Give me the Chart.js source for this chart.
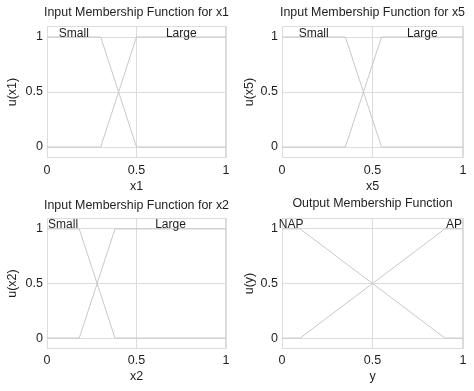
<!DOCTYPE html>
<html>
<head>
<meta charset="utf-8">
<script src="https://cdn.jsdelivr.net/npm/chart.js@4"></script>
<style>
  html, body { margin: 0; padding: 0; background: #fff; }
  #wrap { position: relative; width: 474px; height: 391px; }
  canvas { position: absolute; }
</style>
</head>
<body>
<div id="wrap">
  <canvas id="c1" width="237" height="195" style="left:0;top:0"></canvas>
  <canvas id="c2" width="237" height="195" style="left:237px;top:0"></canvas>
  <canvas id="c3" width="237" height="196" style="left:0;top:195px"></canvas>
  <canvas id="c4" width="237" height="196" style="left:237px;top:195px"></canvas>
</div>
<script>
// datos
const xTicks = [0, 0.5, 1];
const yTicks = [0, 0.5, 1];

const x1Breaks = [0, 0.3, 0.5, 1];
const x1Small = [1, 1, 0, 0];
const x1Large = [0, 0, 1, 1];

const x5Breaks = [0, 0.35, 0.55, 1];
const x5Small = [1, 1, 0, 0];
const x5Large = [0, 0, 1, 1];

const x2Breaks = [0, 0.18, 0.38, 1];
const x2Small = [1, 1, 0, 0];
const x2Large = [0, 0, 1, 1];

const yBreaks = [0, 0.1, 0.9, 1];
const yNAP = [1, 1, 0, 0];
const yAP = [0, 0, 1, 1];

const FONT = "'Liberation Sans', Arial, sans-serif";
const TXT = '#1e1e1e';
const GRID = '#dcdcdc';
const LINE = '#c8c8c8';

Chart.defaults.font.family = FONT;
Chart.defaults.font.size = 12.5;
Chart.defaults.color = TXT;

const toPoints = (xs, ys) => xs.map((x, i) => ({ x: x, y: ys[i] }));

// marco gris alrededor del área
const framePlugin = {
    id: 'frame',
    beforeDatasetsDraw: (chart) => {
        const a = chart.chartArea;
        const ctx = chart.ctx;
        ctx.save();
        ctx.strokeStyle = GRID;
        ctx.lineWidth = 1;
        ctx.strokeRect(Math.round(a.left) + 0.5, Math.round(a.top) + 0.5,
            Math.round(a.right - a.left) - 1, Math.round(a.bottom - a.top) - 1);
        ctx.restore();
    }
};

// título centrado sobre el área del gráfico (letra algo estrecha)
const titlePlugin = {
    id: 'areaTitle',
    afterDraw: (chart, args, o) => {
        const a = chart.chartArea;
        const ctx = chart.ctx;
        ctx.save();
        ctx.translate((a.left + a.right) / 2, o.y);
        ctx.scale(0.92, 1);
        ctx.font = '13.5px ' + FONT;
        ctx.fillStyle = TXT;
        ctx.textAlign = 'center';
        ctx.textBaseline = 'middle';
        ctx.fillText(o.text, 0, 0);
        ctx.restore();
    }
};

// nombres de las funciones sobre la meseta (valor 1)
const mfLabelPlugin = {
    id: 'mfLabels',
    afterDatasetsDraw: (chart) => {
        const ctx = chart.ctx;
        const xs = chart.scales.x, ys = chart.scales.y;
        ctx.save();
        ctx.font = '12px ' + FONT;
        ctx.fillStyle = TXT;
        ctx.textAlign = 'center';
        ctx.textBaseline = 'alphabetic';
        chart.data.datasets.forEach(ds => {
            const top = ds.data.filter(p => p.y === 1);
            const cx = (top[0].x + top[top.length - 1].x) / 2;
            ctx.fillText(ds.label, xs.getPixelForValue(cx), ys.getPixelForValue(1) - 0.5);
        });
        ctx.restore();
    }
};

const makeChart = (id, opts) => {
    new Chart(document.getElementById(id), {
        type: 'scatter',
        data: {
            datasets: opts.sets.map(s => ({
                label: s.name,
                data: toPoints(opts.breaks, s.values),
                showLine: true,
                borderColor: LINE,
                borderWidth: 1,
                pointRadius: 0,
                tension: 0
            }))
        },
        options: {
            responsive: false,
            animation: false,
            layout: { padding: { left: 0, right: 11, top: opts.top, bottom: 0 } },
            plugins: {
                legend: { display: false },
                tooltip: { enabled: false },
                title: { display: false },
                areaTitle: { text: opts.title, y: opts.titleY }
            },
            scales: {
                x: {
                    type: 'linear',
                    min: 0,
                    max: 1,
                    afterBuildTicks: (s) => { s.ticks = xTicks.map(v => ({ value: v })); },
                    afterFit: (s) => { s.height = opts.xH; },
                    grid: { color: GRID, drawTicks: false },
                    border: { display: false },
                    ticks: { padding: opts.xTickPad, color: TXT, maxRotation: 0, callback: v => String(v) },
                    title: { display: true, text: opts.xTitle, color: TXT, padding: { top: 0, bottom: opts.xTitlePad } }
                },
                y: {
                    type: 'linear',
                    min: -0.1,
                    max: 1.1,
                    afterBuildTicks: (s) => { s.ticks = yTicks.map(v => ({ value: v })); },
                    afterFit: (s) => { s.width = opts.yW; },
                    grid: { color: GRID, drawTicks: false },
                    border: { display: false },
                    ticks: { padding: 4, color: TXT, callback: v => String(v) },
                    title: { display: true, text: opts.yTitle, color: TXT, padding: { top: 5, bottom: 0 } }
                }
            }
        },
        plugins: [framePlugin, mfLabelPlugin, titlePlugin]
    });
};

makeChart('c1', {
    title: 'Input Membership Function for x1', xTitle: 'x1', yTitle: 'u(x1)',
    breaks: x1Breaks,
    sets: [{ name: 'Small', values: x1Small }, { name: 'Large', values: x1Large }],
    top: 26, titleY: 12, xH: 37, xTickPad: 5, xTitlePad: 1, yW: 47
});
makeChart('c2', {
    title: 'Input Membership Function for x5', xTitle: 'x5', yTitle: 'u(x5)',
    breaks: x5Breaks,
    sets: [{ name: 'Small', values: x5Small }, { name: 'Large', values: x5Large }],
    top: 26, titleY: 12, xH: 37, xTickPad: 5, xTitlePad: 1, yW: 45
});
makeChart('c3', {
    title: 'Input Membership Function for x2', xTitle: 'x2', yTitle: 'u(x2)',
    breaks: x2Breaks,
    sets: [{ name: 'Small', values: x2Small }, { name: 'Large', values: x2Large }],
    top: 23, titleY: 10, xH: 42, xTickPad: 4, xTitlePad: 7, yW: 47
});
makeChart('c4', {
    title: 'Output Membership Function', xTitle: 'y', yTitle: 'u(y)',
    breaks: yBreaks,
    sets: [{ name: 'NAP', values: yNAP }, { name: 'AP', values: yAP }],
    top: 23, titleY: 8.5, xH: 42, xTickPad: 4, xTitlePad: 7, yW: 45
});
</script>
</body>
</html>
